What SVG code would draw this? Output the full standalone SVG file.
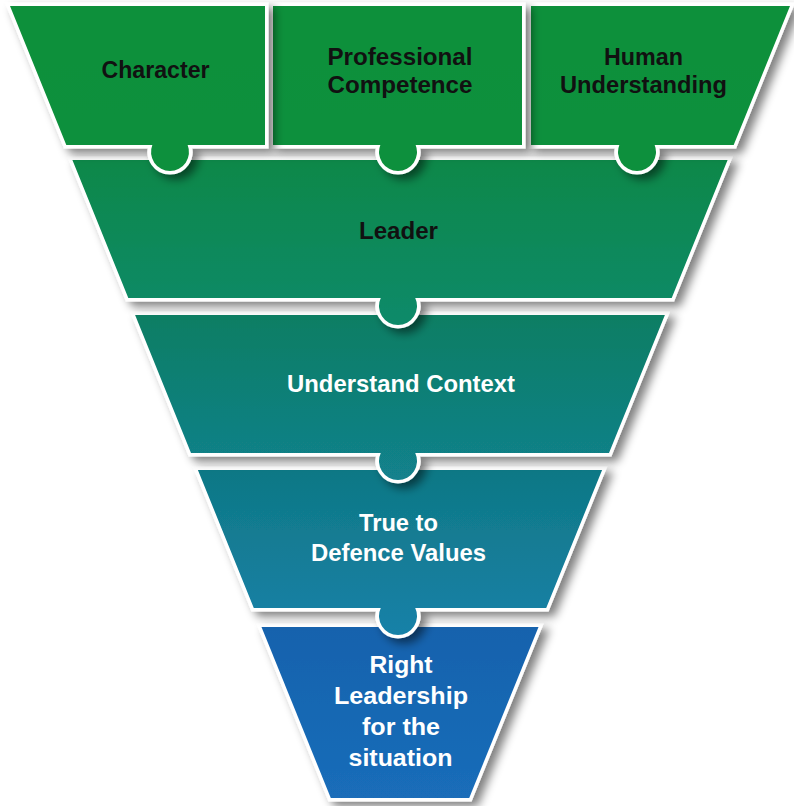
<svg xmlns="http://www.w3.org/2000/svg" width="794" height="806" viewBox="0 0 794 806">
  <defs>
    <!-- soft drop shadow cast down and to the right -->
    <filter id="shadow" x="-15%" y="-15%" width="140%" height="150%">
      <feGaussianBlur in="SourceAlpha" stdDeviation="5"/>
      <feOffset dx="6" dy="5" result="off"/>
      <feComponentTransfer>
        <feFuncA type="linear" slope="0.5"/>
      </feComponentTransfer>
      <feMerge>
        <feMergeNode/>
        <feMergeNode in="SourceGraphic"/>
      </feMerge>
    </filter>
    <linearGradient id="g-top" x1="0" y1="0" x2="0" y2="1">
      <stop offset="0" stop-color="#10903a"/>
      <stop offset="1" stop-color="#10903d"/>
    </linearGradient>
    <linearGradient id="g-leader" x1="0" y1="0" x2="0" y2="1">
      <stop offset="0" stop-color="#0e8849"/>
      <stop offset="1" stop-color="#0c8a6a"/>
    </linearGradient>
    <linearGradient id="g-context" x1="0" y1="0" x2="0" y2="1">
      <stop offset="0" stop-color="#0e7e63"/>
      <stop offset="1" stop-color="#12818d"/>
    </linearGradient>
    <linearGradient id="g-values" x1="0" y1="0" x2="0" y2="1">
      <stop offset="0" stop-color="#0f7885"/>
      <stop offset="1" stop-color="#1781a8"/>
    </linearGradient>
    <linearGradient id="g-right" x1="0" y1="0" x2="0" y2="1">
      <stop offset="0" stop-color="#1462ad"/>
      <stop offset="1" stop-color="#1a6db9"/>
    </linearGradient>
  </defs>
  <style>
    .piece { stroke: #ffffff; stroke-width: 7; stroke-linejoin: miter; paint-order: stroke; filter: url(#shadow); }
    .label { font-family: "Liberation Sans", Arial, Helvetica, sans-serif; font-weight: bold; font-size: 24px; text-anchor: middle; }
    .dark { fill: #111111; }
    .light { fill: #ffffff; }
  </style>

  <rect width="794" height="806" fill="#ffffff"/>

  <!-- bottom tier first so each upper tab overlaps the tier below -->
  <g id="right-leadership">
    <path class="piece" fill="url(#g-right)" d="M261.5,627 L538.5,627 L469.2,798 L330.8,798 Z"/>
    <text class="label light" x="401" y="673" textLength="63" lengthAdjust="spacingAndGlyphs">Right</text>
    <text class="label light" x="401" y="704" textLength="134" lengthAdjust="spacingAndGlyphs">Leadership</text>
    <text class="label light" x="401" y="735" textLength="78" lengthAdjust="spacingAndGlyphs">for the</text>
    <text class="label light" x="400.5" y="766" textLength="104" lengthAdjust="spacingAndGlyphs">situation</text>
  </g>

  <g id="defence-values">
    <path class="piece" fill="url(#g-values)" d="M197.9,470 L602.1,470 L546.2,608 L415.23,608 A19,19 0 1 1 380.77,608 L253.8,608 Z"/>
    <text class="label light" x="398.5" y="531" textLength="79" lengthAdjust="spacingAndGlyphs">True to</text>
    <text class="label light" x="398.5" y="561" textLength="175" lengthAdjust="spacingAndGlyphs">Defence Values</text>
  </g>

  <g id="understand-context">
    <path class="piece" fill="url(#g-context)" d="M135.1,315 L664.9,315 L609,453 L415.23,453 A19,19 0 1 1 380.77,453 L191,453 Z"/>
    <text class="label light" x="401" y="392" textLength="228" lengthAdjust="spacingAndGlyphs">Understand Context</text>
  </g>

  <g id="leader">
    <path class="piece" fill="url(#g-leader)" d="M72.4,160 L727.6,160 L671.7,298 L415.23,298 A19,19 0 1 1 380.77,298 L128.3,298 Z"/>
    <text class="label dark" x="398.5" y="239" textLength="79" lengthAdjust="spacingAndGlyphs">Leader</text>
  </g>

  <g id="human-understanding">
    <path class="piece" fill="url(#g-top)" d="M531,6 L790,6 L733.7,145 L654.66,145 A19,19 0 1 1 619.34,145 L531,145 Z"/>
    <text class="label dark" x="643.5" y="65" textLength="79" lengthAdjust="spacingAndGlyphs">Human</text>
    <text class="label dark" x="643.5" y="93" textLength="167" lengthAdjust="spacingAndGlyphs">Understanding</text>
  </g>

  <g id="professional-competence">
    <path class="piece" fill="url(#g-top)" d="M273,6 L522,6 L522,145 L415.66,145 A19,19 0 1 1 380.34,145 L273,145 Z"/>
    <text class="label dark" x="400" y="65" textLength="145" lengthAdjust="spacingAndGlyphs">Professional</text>
    <text class="label dark" x="400" y="93" textLength="145" lengthAdjust="spacingAndGlyphs">Competence</text>
  </g>

  <g id="character">
    <path class="piece" fill="url(#g-top)" d="M10,6 L265,6 L265,145 L187.66,145 A19,19 0 1 1 152.34,145 L66.3,145 Z"/>
    <text class="label dark" x="155.5" y="78" textLength="108" lengthAdjust="spacingAndGlyphs">Character</text>
  </g>
</svg>
